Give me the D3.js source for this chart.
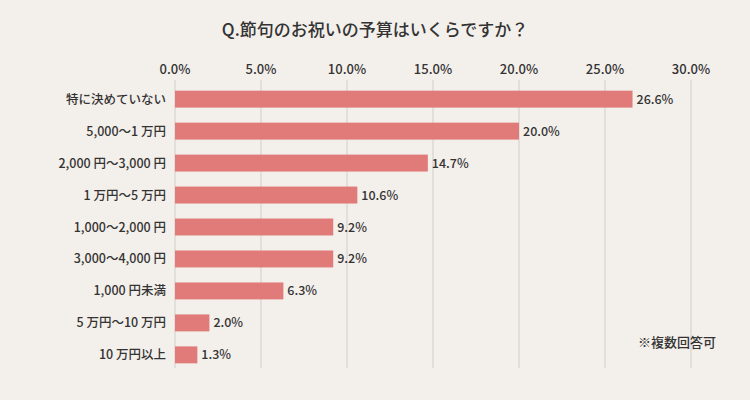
<!DOCTYPE html><html><head><meta charset="utf-8"><script src="https://cdn.jsdelivr.net/npm/d3@7"></script>
<style>body{margin:0;background:#f3efeb}svg{display:block}text{font-family:"Noto Sans CJK JP",sans-serif;fill:#333;font-weight:500}</style></head><body><svg width="750" height="400"></svg><script>
const categories=["特に決めていない","5,000～1 万円","2,000 円～3,000 円","1 万円～5 万円","1,000～2,000 円","3,000～4,000 円","1,000 円未満","5 万円～10 万円","10 万円以上"];
const values=[26.6,20.0,14.7,10.6,9.2,9.2,6.3,2.0,1.3];
const ticks=[0,5,10,15,20,25,30];
const svg=d3.select("svg");
svg.append("rect").attr("width",750).attr("height",400).attr("fill","#f3efeb");
const x=d3.scaleLinear().domain([0,30]).range([175,691]);
const y=d3.scaleBand().domain(categories).range([83,371]).paddingInner(0.47).paddingOuter(0.24);
svg.append("text").attr("x",375).attr("y",36).attr("text-anchor","middle").attr("font-size",17).attr("font-weight","bold").text("Q.節句のお祝いの予算はいくらですか？");
svg.selectAll(".g").data(ticks).join("line").attr("x1",d=>x(d)).attr("x2",d=>x(d)).attr("y1",80).attr("y2",368).attr("stroke","#ddd8d3").attr("stroke-width",1.5);
svg.selectAll(".t").data(ticks).join("text").attr("x",d=>x(d)).attr("y",74).attr("text-anchor","middle").attr("font-size",13).text(d=>d.toFixed(1)+"%");
svg.selectAll(".b").data(values).join("rect").attr("x",x(0)).attr("y",(d,i)=>y(categories[i])).attr("width",d=>x(d)-x(0)).attr("height",y.bandwidth()).attr("fill","#e07b7a");
svg.selectAll(".v").data(values).join("text").attr("x",d=>x(d)+4).attr("y",(d,i)=>y(categories[i])+y.bandwidth()/2+4.5).attr("font-size",12.5).text(d=>d.toFixed(1)+"%");
svg.selectAll(".c").data(categories).join("text").attr("x",166).attr("y",d=>y(d)+y.bandwidth()/2+4.5).attr("text-anchor","end").attr("font-size",12.5).text(d=>d);
svg.append("text").attr("x",716).attr("y",347).attr("text-anchor","end").attr("font-size",13).attr("font-weight","bold").text("※複数回答可");
</script></body></html>
